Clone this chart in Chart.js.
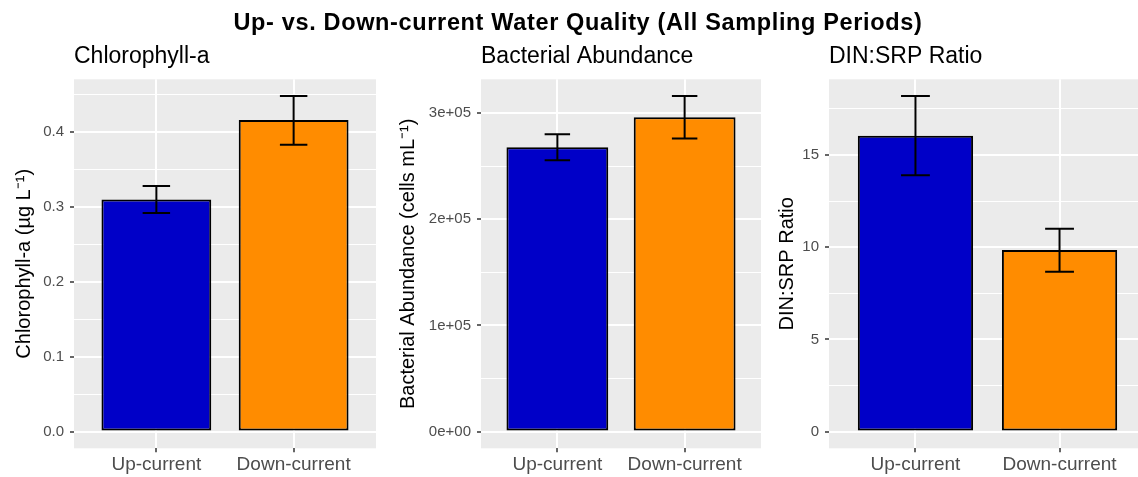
<!DOCTYPE html>
<html>
<head>
<meta charset="utf-8">
<script src="https://cdn.jsdelivr.net/npm/chart.js@4.4.0/dist/chart.umd.min.js"></script>
<style>
    body { margin: 0; width: 1138px; height: 477px; overflow: hidden; position: relative; background: #fff; font-family: "Liberation Sans", Arial, sans-serif; }
    canvas { position: absolute; top: 0; }
    #mainTitle { position: absolute; left: 0; top: 11px; width: 1156px; text-align: center; font-size: 23.5px; line-height: 23px; letter-spacing: 0.65px; font-weight: bold; color: #000; }
</style>
</head>
<body>
<canvas id="chl" width="376" height="477" style="left:0px"></canvas>
<canvas id="bac" width="381" height="477" style="left:380px"></canvas>
<canvas id="ratio" width="386" height="477" style="left:760px"></canvas>
<div id="mainTitle">Up- vs. Down-current Water Quality (All Sampling Periods)</div>
<script>
    // values
    var categories = ['Up-current', 'Down-current'];
    var barColors = ['#0000C8', '#FF8C00'];

    var chlMean = [0.310, 0.416];
    var chlLow = [0.292, 0.383];
    var chlHigh = [0.328, 0.448];
    var chlTicks = [0, 0.1, 0.2, 0.3, 0.4];
    var chlTickLabels = ['0.0', '0.1', '0.2', '0.3', '0.4'];

    var bacMean = [267900, 296100];
    var bacLow = [255700, 276100];
    var bacHigh = [280100, 316100];
    var bacTicks = [0, 100000, 200000, 300000];
    var bacTickLabels = ['0e+00', '1e+05', '2e+05', '3e+05'];

    var ratioMean = [16.05, 9.85];
    var ratioLow = [13.9, 8.67];
    var ratioHigh = [18.2, 11.0];
    var ratioTicks = [0, 5, 10, 15];
    var ratioTickLabels = ['0', '5', '10', '15'];

    Chart.defaults.font.family = '"Liberation Sans", Arial, sans-serif';

    // grey ggplot panel behind the grid
    var panelBg = {
        id: 'panelBg',
        beforeDraw: function (chart) {
            var a = chart.chartArea;
            var ctx = chart.ctx;
            ctx.save();
            ctx.fillStyle = '#EBEBEB';
            ctx.fillRect(a.left, a.top, a.right - a.left, a.bottom - a.top);
            ctx.restore();
        }
    };

    var errorBars = {
        id: 'errorBars',
        afterDatasetsDraw: function (chart, args, opts) {
            var xs = chart.scales.x, ys = chart.scales.y, ctx = chart.ctx;
            var half = xs.getPixelForValue(opts.capWidth / 2) - xs.getPixelForValue(0);
            ctx.save();
            ctx.strokeStyle = '#000';
            ctx.lineWidth = 2;
            for (var i = 0; i < opts.low.length; i++) {
                var x = xs.getPixelForValue(i);
                var yl = ys.getPixelForValue(opts.low[i]);
                var yh = ys.getPixelForValue(opts.high[i]);
                ctx.beginPath();
                ctx.moveTo(x - half, yh); ctx.lineTo(x + half, yh);
                ctx.moveTo(x, yh); ctx.lineTo(x, yl);
                ctx.moveTo(x - half, yl); ctx.lineTo(x + half, yl);
                ctx.stroke();
            }
            ctx.restore();
        }
    };

    function makePanel(id, p) {
        var top = Math.max.apply(null, p.high);
        var pad = top * 0.05;
        var minor = [];
        for (var i = 0; i < p.ticks.length; i++) {
            var step = p.ticks[1] - p.ticks[0];
            var m = p.ticks[i] + step / 2;
            if (m < top + pad) minor.push(m);
        }
        var allTicks = p.ticks.concat(minor);
        var isMajor = function (v) { return p.ticks.indexOf(v) >= 0; };

        var points = [];
        _each(p.mean, function (v, i) { points.push({ x: i, y: v }); });

        return new Chart(document.getElementById(id).getContext('2d'), {
            type: 'bar',
            data: {
                datasets: [{
                    data: points,
                    backgroundColor: barColors,
                    borderColor: '#000',
                    borderWidth: 2,
                    borderSkipped: false,
                    categoryPercentage: 1,
                    barPercentage: 0.8
                }]
            },
            options: {
                responsive: false,
                animation: false,
                events: [],
                layout: { padding: 0 },
                scales: {
                    x: {
                        type: 'linear',
                        min: -0.6,
                        max: 1.6,
                        offset: false,
                        afterBuildTicks: function (s) {
                            s.ticks = categories.map(function (c, k) { return { value: k }; });
                        },
                        afterFit: function (s) { s.height = 28.7; },
                        ticks: {
                            autoSkip: false,
                            maxRotation: 0,
                            padding: 1.5,
                            color: '#4D4D4D',
                            font: { size: 19 },
                            callback: function (v) { return categories[v]; }
                        },
                        grid: { offset: false, color: '#FFFFFF', lineWidth: 2, tickLength: 4, tickColor: '#333333', tickWidth: 1.5 },
                        border: { display: false }
                    },
                    y: {
                        min: -pad,
                        max: top + pad,
                        afterBuildTicks: function (s) {
                            s.ticks = allTicks.map(function (v) { return { value: v }; });
                        },
                        afterFit: function (s) { s.width = p.axisWidth; },
                        ticks: {
                            autoSkip: false,
                            padding: 6,
                            color: '#4D4D4D',
                            font: { size: 15 },
                            callback: function (v) {
                                var k = p.ticks.indexOf(v);
                                return k < 0 ? '' : p.tickLabels[k];
                            }
                        },
                        grid: {
                            color: '#FFFFFF',
                            lineWidth: function (c) { return isMajor(c.tick.value) ? 2 : 1; },
                            tickLength: 4,
                            tickColor: function (c) { return isMajor(c.tick.value) ? '#333333' : 'rgba(0,0,0,0)'; },
                            tickWidth: 1.5
                        },
                        border: { display: false },
                        title: {
                            display: true,
                            text: p.yTitle,
                            color: '#000',
                            font: { size: 20 },
                            padding: { top: p.yTitlePad, bottom: 0 }
                        }
                    }
                },
                plugins: {
                    legend: { display: false },
                    tooltip: { enabled: false },
                    title: {
                        display: true,
                        text: p.title,
                        align: 'start',
                        fullSize: false,
                        color: '#000',
                        font: { size: 23, weight: 'normal' },
                        padding: { top: 43.2, bottom: 8.5 }
                    },
                    errorBars: { low: p.low, high: p.high, capWidth: 0.2 }
                }
            },
            plugins: [panelBg, errorBars]
        });
    }

    function _each(arr, fn) { for (var i = 0; i < arr.length; i++) fn(arr[i], i); }

    makePanel('chl', {
        title: 'Chlorophyll-a', yTitle: 'Chlorophyll-a (\u00b5g L\u207b\u00b9)',
        mean: chlMean, low: chlLow, high: chlHigh, ticks: chlTicks, tickLabels: chlTickLabels,
        axisWidth: 74, yTitlePad: 12.8
    });
    makePanel('bac', {
        title: 'Bacterial Abundance', yTitle: 'Bacterial Abundance (cells mL\u207b\u00b9)',
        mean: bacMean, low: bacLow, high: bacHigh, ticks: bacTicks, tickLabels: bacTickLabels,
        axisWidth: 101, yTitlePad: 16.8
    });
    makePanel('ratio', {
        title: 'DIN:SRP Ratio', yTitle: 'DIN:SRP Ratio',
        mean: ratioMean, low: ratioLow, high: ratioHigh, ticks: ratioTicks, tickLabels: ratioTickLabels,
        axisWidth: 69, yTitlePad: 15.1
    });
</script>
</body>
</html>
